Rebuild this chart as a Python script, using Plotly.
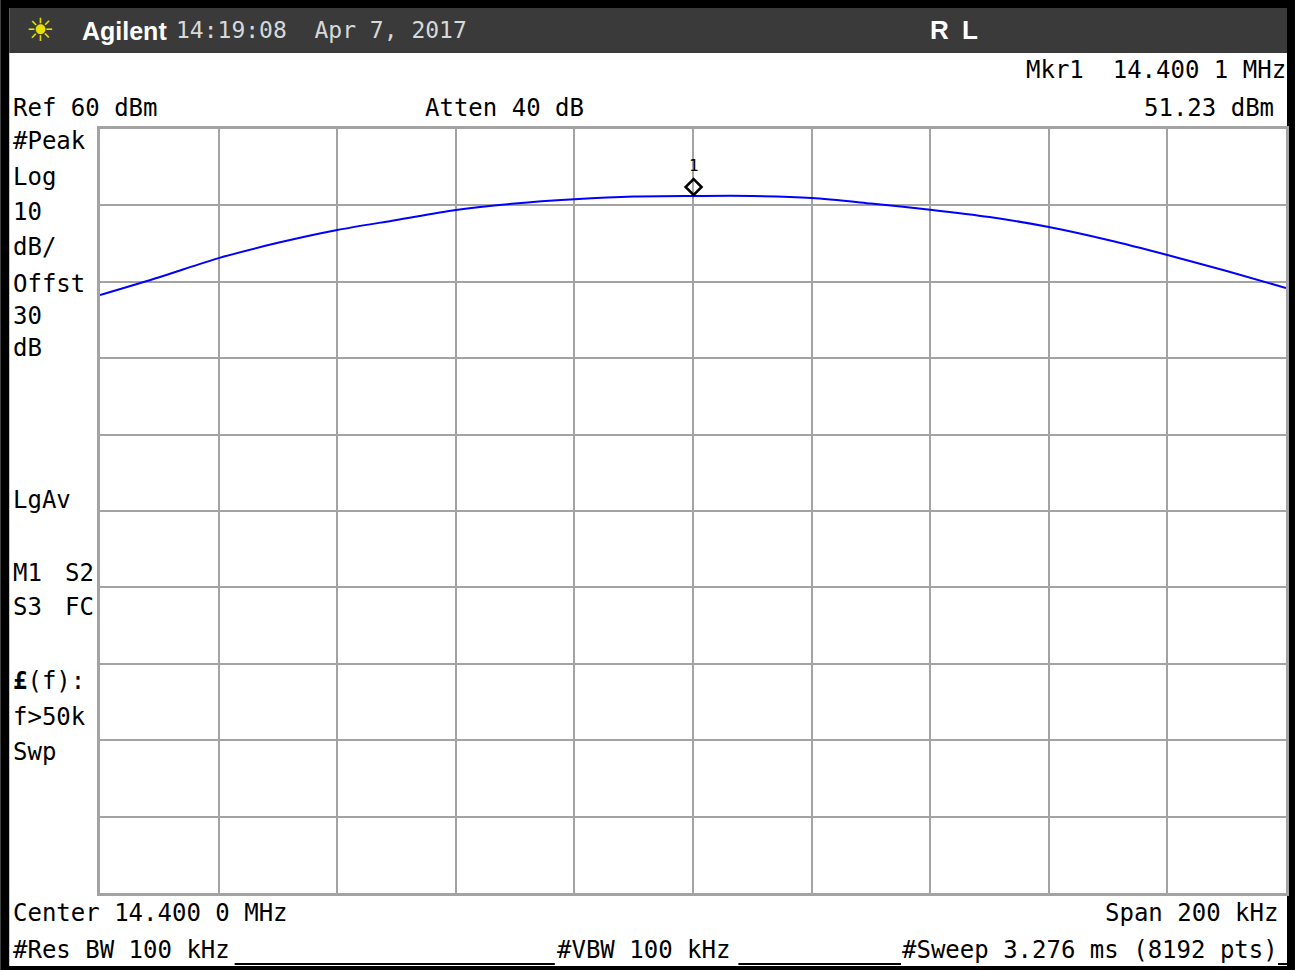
import plotly.graph_objects as go

# Swept spectrum trace: frequency (MHz) vs level (dBm)
freq_mhz = [14.300, 14.310, 14.320, 14.330, 14.340, 14.350, 14.360, 14.370,
            14.380, 14.390, 14.400, 14.410, 14.420, 14.430, 14.440, 14.450,
            14.460, 14.470, 14.480, 14.490, 14.500]
level_dbm = [38.27, 40.60, 43.10, 45.10, 46.78, 48.09, 49.40, 50.25,
             50.80, 51.16, 51.23, 51.23, 50.97, 50.25, 49.44, 48.48,
             47.17, 45.47, 43.51, 41.41, 39.19]

# Marker 1 readout
mkr_freq = 14.4001
mkr_level = 51.23

# Display settings
ref_level = 60
db_per_div = 10
center_mhz = 14.4
span_mhz = 0.2

W, H = 1298, 970
L, R, T, B = 100, 1289, 129, 893


def px(x):
    return (x - L) / (R - L)


def py(y):
    return (B - y) / (B - T)


MONO = "DejaVu Sans Mono"
SANS = "Liberation Sans"

fig = go.Figure()
fig.add_trace(go.Scatter(
    x=freq_mhz, y=level_dbm, mode="lines",
    line=dict(color="#0000ff", width=2, shape="spline", smoothing=0.8),
    hoverinfo="skip", showlegend=False,
))

shapes = []
# black outer frame
shapes.append(dict(type="rect", xref="paper", yref="paper", layer="below",
                   x0=px(0), x1=px(W), y0=py(H), y1=py(0),
                   fillcolor="#000000", line=dict(width=0)))
shapes.append(dict(type="rect", xref="paper", yref="paper", layer="below",
                   x0=px(9), x1=px(1290), y0=py(966), y1=py(8),
                   fillcolor="#ffffff", line=dict(width=0)))
# title bar
shapes.append(dict(type="rect", xref="paper", yref="paper", layer="below",
                   x0=px(9), x1=px(1290), y0=py(53), y1=py(8),
                   fillcolor="#3a3a3a", line=dict(width=0)))
# underlines on the bottom status row
for a, b in [(235, 556), (740, 903), (1281, 1290)]:
    shapes.append(dict(type="line", xref="paper", yref="paper",
                       x0=px(a), x1=px(b), y0=py(964), y1=py(964),
                       line=dict(color="#000000", width=2)))
# marker diamond drawn just above the trace point
shapes.append(dict(type="path", xref="x", yref="y",
                   xsizemode="pixel", ysizemode="pixel",
                   xanchor=mkr_freq, yanchor=mkr_level,
                   path="M 0 1 L 8 9 L 0 17 L -8 9 Z",
                   line=dict(color="#000000", width=2.5)))

ann = []


def text(x, y, s, size=24, color="#000000", family=MONO, anchor="left"):
    ann.append(dict(xref="paper", yref="paper", x=px(x), y=py(y), text=s,
                    showarrow=False, xanchor=anchor, yanchor="middle",
                    font=dict(family=family, size=size, color=color)))


# title bar contents
text(24, 30, "☀", size=32, color="#e8e000", family="DejaVu Sans")
text(80, 31, "<b>Agilent</b>", size=25, color="#ffffff", family=SANS)
text(174, 30, "14:19:08  Apr 7, 2017", size=23, color="#d8d8d8")
text(930, 30, "<b>R</b>", size=26, color="#ffffff", family=SANS)
text(962, 30, "<b>L</b>", size=26, color="#ffffff", family=SANS)

# header readouts
text(1291, 70, "Mkr1  14.400 1 MHz", anchor="right")
text(11, 108, f"Ref {ref_level} dBm")
text(424, 108, "Atten 40 dB")
text(1279, 108, f"{mkr_level:.2f} dBm", anchor="right")

# left annotation column
left_col = [("#Peak", 141), ("Log", 177), (f"{db_per_div}", 212), ("dB/", 247),
            ("Offst", 284), ("30", 316), ("dB", 348), ("LgAv", 500),
            ("M1", 573), ("S3", 607), ("<b>£</b>(f):", 681),
            ("f>50k", 717), ("Swp", 752)]
for s, y in left_col:
    text(11, y, s)
text(96, 573, "S2", anchor="right")
text(96, 607, "FC", anchor="right")

# bottom readouts
text(11, 913, f"Center {center_mhz:.3f} 0 MHz")
text(1283, 913, f"Span {span_mhz * 1000:.0f} kHz", anchor="right")
text(11, 950, "#Res BW 100 kHz")
text(556, 950, "#VBW 100 kHz")
text(902, 950, "#Sweep 3.276 ms (8192 pts)")

# marker number above the diamond
ann.append(dict(xref="x", yref="y", x=mkr_freq, y=mkr_level, text="1",
                showarrow=False, yshift=31, xanchor="center", yanchor="middle",
                font=dict(family=MONO, size=16, color="#000000")))

grid = "#a3a3a3"
fig.update_layout(
    width=W, height=H, autosize=False,
    margin=dict(l=L, r=W - R, t=T, b=H - B, pad=0),
    paper_bgcolor="#ffffff", plot_bgcolor="#ffffff",
    showlegend=False,
    xaxis=dict(range=[center_mhz - span_mhz / 2, center_mhz + span_mhz / 2],
               tick0=center_mhz - span_mhz / 2, dtick=span_mhz / 10,
               showticklabels=False, ticks="", showgrid=True,
               gridcolor=grid, gridwidth=2, zeroline=False,
               showline=True, linecolor=grid, linewidth=3, mirror=True,
               fixedrange=True),
    yaxis=dict(range=[ref_level - 10 * db_per_div, ref_level],
               tick0=ref_level, dtick=db_per_div,
               showticklabels=False, ticks="", showgrid=True,
               gridcolor=grid, gridwidth=2, zeroline=False,
               showline=True, linecolor=grid, linewidth=3, mirror=True,
               fixedrange=True),
    shapes=shapes,
    annotations=ann,
)

fig.write_html("out.html", config={"displayModeBar": False})
